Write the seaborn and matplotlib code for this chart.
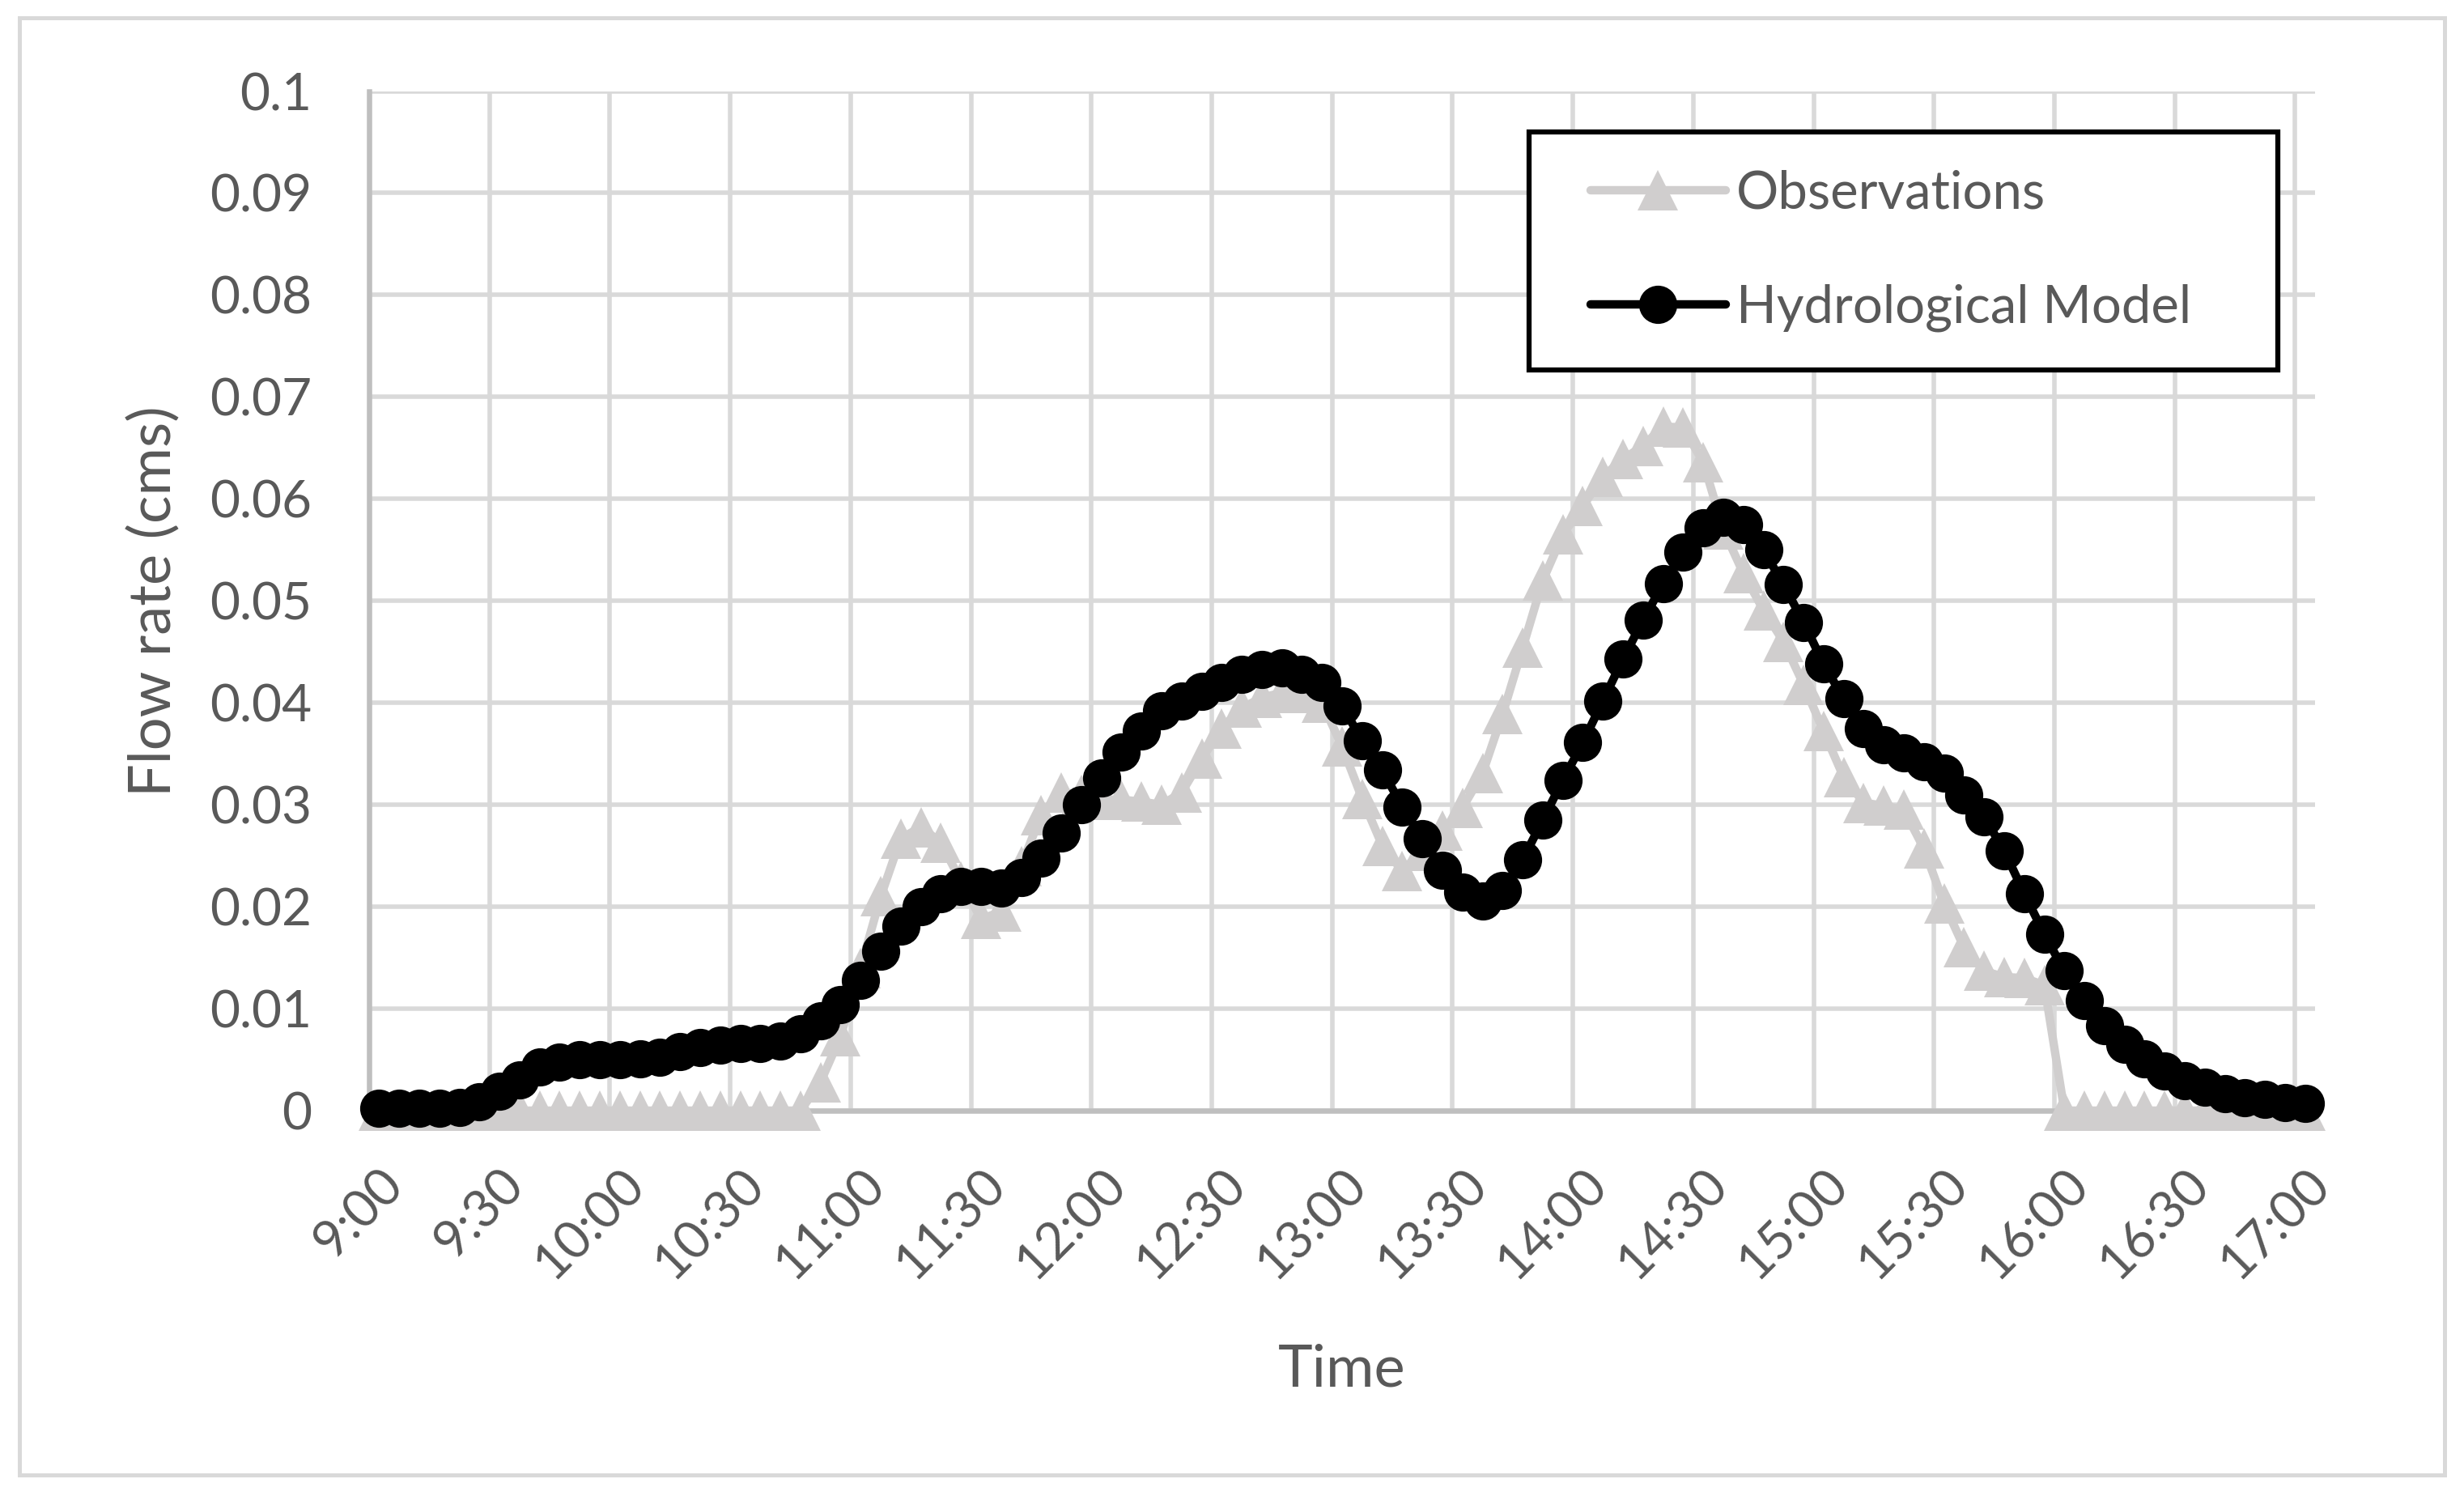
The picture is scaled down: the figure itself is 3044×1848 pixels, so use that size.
import numpy as np
import pandas as pd
import seaborn as sns
import matplotlib.pyplot as plt
from matplotlib.lines import Line2D
from matplotlib.legend_handler import HandlerLine2D
from matplotlib.patches import Rectangle

# 5-minute steps from 9:00 to 17:00 (category axis)
minutes = np.arange(0, 481, 5)

observations = [
    0, 0, 0, 0, 0, 0, 0, 0, 0, 0, 0, 0, 0, 0, 0, 0, 0, 0, 0, 0, 0, 0,
    0.0028, 0.0073, 0.0140, 0.0210, 0.0267, 0.0278, 0.0263, 0.0225, 0.0188, 0.0195,
    0.0240, 0.0290, 0.0312, 0.0310, 0.0305, 0.0305, 0.0303, 0.0300, 0.0312, 0.0345,
    0.0375, 0.0395, 0.0405, 0.0410, 0.0410, 0.0400, 0.0357, 0.0306, 0.0260, 0.0235,
    0.0255, 0.0275, 0.0297, 0.0331, 0.0389, 0.0454, 0.0520, 0.0565, 0.0593, 0.0622,
    0.0639, 0.0652, 0.0671, 0.0670, 0.0636, 0.0570, 0.0527, 0.0491, 0.0460, 0.0418,
    0.0372, 0.0327, 0.0302, 0.0299, 0.0295, 0.0257, 0.0203, 0.0160, 0.0137, 0.0131,
    0.0130, 0.0123,
    0, 0, 0, 0, 0, 0, 0, 0, 0, 0, 0, 0, 0,
]

hydro_model = [
    0.0002, 0.0002, 0.0002, 0.0002, 0.0003, 0.0009, 0.0019, 0.0030, 0.0043, 0.0048,
    0.0050, 0.0050, 0.0050, 0.0051, 0.0052, 0.0058, 0.0062, 0.0064, 0.0066, 0.0066,
    0.0068, 0.0075, 0.0088, 0.0104, 0.0128, 0.0156, 0.0181, 0.0200, 0.0213, 0.0220,
    0.0220, 0.0218, 0.0229, 0.0248, 0.0272, 0.0300, 0.0326, 0.0352, 0.0372, 0.0392,
    0.0402, 0.0411, 0.0420, 0.0428, 0.0433, 0.0434, 0.0428, 0.0420, 0.0397, 0.0363,
    0.0334, 0.0298, 0.0267, 0.0236, 0.0214, 0.0206, 0.0216, 0.0246, 0.0285, 0.0324,
    0.0361, 0.0402, 0.0443, 0.0481, 0.0517, 0.0548, 0.0572, 0.0582, 0.0575, 0.0550,
    0.0516, 0.0479, 0.0438, 0.0404, 0.0375, 0.0359, 0.0351, 0.0342, 0.0331, 0.0310,
    0.0288, 0.0255, 0.0213, 0.0173, 0.0137, 0.0108, 0.0083, 0.0065, 0.0051, 0.0039,
    0.0029, 0.0023, 0.0017, 0.0013, 0.0011, 0.0008, 0.0007,
]

time_labels = ['9:00', '9:30', '10:00', '10:30', '11:00', '11:30', '12:00', '12:30',
               '13:00', '13:30', '14:00', '14:30', '15:00', '15:30', '16:00', '16:30', '17:00']
y_ticks = [0, 0.01, 0.02, 0.03, 0.04, 0.05, 0.06, 0.07, 0.08, 0.09, 0.1]
y_labels = ['0', '0.01', '0.02', '0.03', '0.04', '0.05', '0.06', '0.07', '0.08', '0.09', '0.1']

df = pd.DataFrame({'Time': minutes, 'Observations': observations,
                   'Hydrological Model': hydro_model})

TEXT = '#595959'
GRID = '#D9D9D9'
AXIS = '#BFBFBF'
OBS_COLOR = '#D0CECE'

sns.set_theme(style='white')
plt.rcParams['font.family'] = ['Lato', 'DejaVu Sans']

fig = plt.figure(figsize=(30.44, 18.48), dpi=100)
ax = fig.add_axes([0.1498, 0.2576, 0.7898, 0.6815])

sns.lineplot(data=df, x='Time', y='Observations', ax=ax, color=OBS_COLOR,
             linewidth=7.5, marker='^', markersize=36, markeredgewidth=0,
             label='Observations', clip_on=False, zorder=4)
sns.lineplot(data=df, x='Time', y='Hydrological Model', ax=ax, color='black',
             linewidth=7.5, marker='o', markersize=34, markeredgewidth=0,
             label='Hydrological Model', clip_on=False, zorder=5)

ax.set_xlim(-2.5, 482.5)
ax.set_ylim(0, 0.1)
ax.set_xticks(np.arange(0, 481, 30))
ax.set_xticklabels(time_labels)
ax.set_xticks(np.arange(-2.5, 480, 30), minor=True)
ax.set_yticks(y_ticks)
ax.set_yticklabels(y_labels)

ax.grid(False)
ax.grid(which='minor', axis='x', color=GRID, linewidth=4)
ax.grid(which='major', axis='y', color=GRID, linewidth=4)
ax.set_axisbelow(True)

ax.tick_params(which='both', length=0)
ax.tick_params(axis='y', labelsize=46, labelcolor=TEXT, pad=51)
ax.tick_params(axis='x', labelsize=46, labelcolor=TEXT, pad=44)
plt.setp(ax.get_xticklabels(), rotation=45, ha='right', va='top', rotation_mode='anchor')

for side in ['top', 'right']:
    ax.spines[side].set_visible(False)
for side in ['left', 'bottom']:
    ax.spines[side].set_color(AXIS)
    ax.spines[side].set_linewidth(4.7)

ax.set_xlabel('Time', fontsize=52, color=TEXT, va='center')
ax.xaxis.set_label_coords(0.5, -0.254)
ax.set_ylabel('Flow rate (cms)', fontsize=52, color=TEXT, va='center')
ax.yaxis.set_label_coords(-0.1107, 0.5)

handles, labels = ax.get_legend_handles_labels()
leg = ax.legend(handles, labels, loc='upper left',
                bbox_to_anchor=(0.5961, 0.7345, 0.3848, 0.2255), mode='expand',
                borderaxespad=0, borderpad=0.72, labelspacing=1.25,
                handlelength=3.0, handletextpad=0.2, fontsize=47,
                fancybox=False, framealpha=1, edgecolor='black',
                handler_map={Line2D: HandlerLine2D(xpad=0.44)})
leg.get_frame().set_linewidth(4.5)
leg.set_zorder(10)
for t in leg.get_texts():
    t.set_color(TEXT)

# outer chart border
fig.add_artist(Rectangle((24 / 3044, 1 - 1822 / 1848), (3020 - 24) / 3044, (1822 - 22) / 1848,
                         transform=fig.transFigure, fill=False, edgecolor=GRID, linewidth=3.6))

fig.savefig('out.png', dpi=100, facecolor='white')
